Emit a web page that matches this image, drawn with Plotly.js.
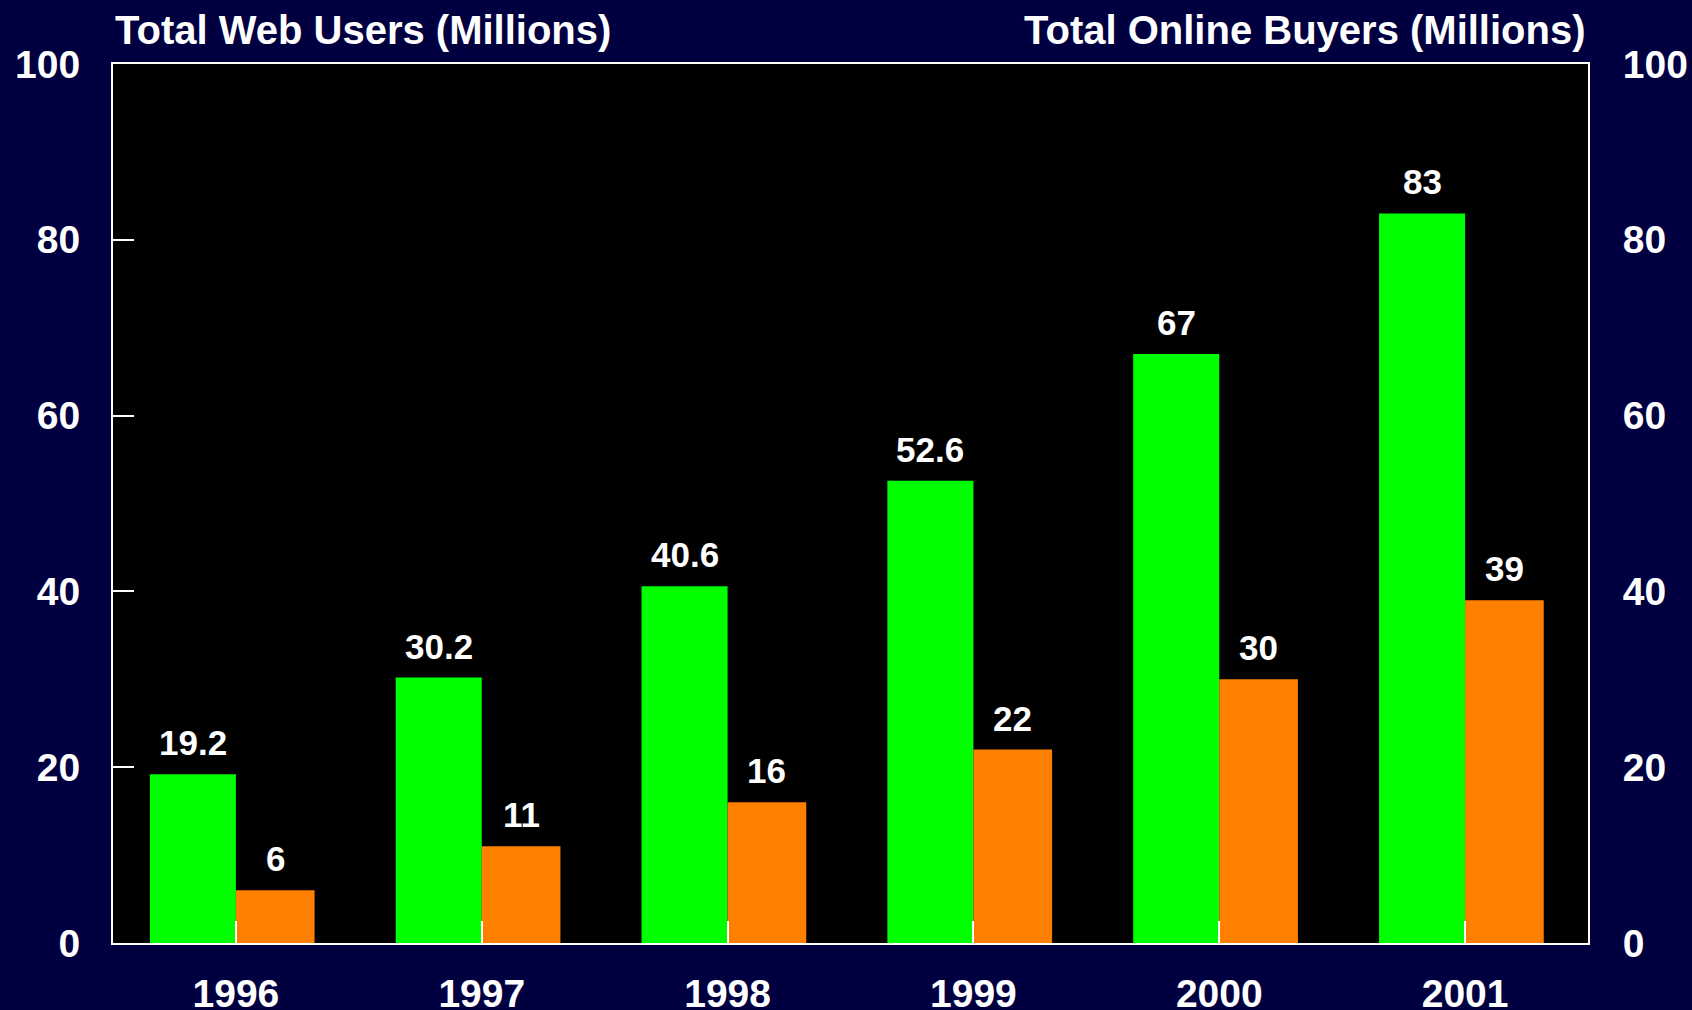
<!DOCTYPE html>
<html>
<head>
<meta charset="utf-8">
<script src="https://cdn.plot.ly/plotly-3.0.1.min.js"></script>
<style>
  html, body { margin: 0; padding: 0; background: #000040; }
  #chart { width: 1692px; height: 1010px; }
</style>
</head>
<body>
<div id="chart"></div>
<script>
const years = ['1996', '1997', '1998', '1999', '2000', '2001'];
const webUsers = [19.2, 30.2, 40.6, 52.6, 67, 83];
const onlineBuyers = [6, 11, 16, 22, 30, 39];

const font = 'Liberation Sans, Arial, sans-serif';

const data = [
  {x: years, y: webUsers, type: 'bar', name: 'Total Web Users',
   marker: {color: '#00ff00'}, offset: -0.35, width: 0.35, yaxis: 'y'},
  {x: years, y: onlineBuyers, type: 'bar', name: 'Total Online Buyers',
   marker: {color: '#ff8000'}, offset: 0, width: 0.32, yaxis: 'y2'}
];

// value labels above each bar
const labels = [];
webUsers.forEach((v, i) => labels.push({
  x: i - 0.175, y: v, xref: 'x', yref: 'y', text: '<b>' + v + '</b>',
  showarrow: false, yanchor: 'bottom', yshift: 10,
  font: {family: font, size: 35, color: '#ffffff'}
}));
onlineBuyers.forEach((v, i) => labels.push({
  x: i + 0.16, y: v, xref: 'x', yref: 'y2', text: '<b>' + v + '</b>',
  showarrow: false, yanchor: 'bottom', yshift: 10,
  font: {family: font, size: 35, color: '#ffffff'}
}));

const titles = [
  {x: 0, y: 1, xref: 'paper', yref: 'paper', xanchor: 'left', yanchor: 'bottom', yshift: 10,
   text: '<b>Total Web Users (Millions)</b>', showarrow: false,
   font: {family: font, size: 40, color: '#ffffff'}},
  {x: 1, y: 1, xref: 'paper', yref: 'paper', xanchor: 'right', yanchor: 'bottom', yshift: 10,
   text: '<b>Total Online Buyers (Millions)</b>', showarrow: false,
   font: {family: font, size: 40, color: '#ffffff'}}
];

const tickFont = {family: font, size: 39, color: '#ffffff', weight: 'bold'};

const layout = {
  width: 1692, height: 1010,
  paper_bgcolor: '#000040',
  plot_bgcolor: '#000000',
  margin: {l: 113, r: 104, t: 64, b: 67},
  showlegend: false,
  xaxis: {
    type: 'category', range: [-0.5, 5.5],
    showline: true, linecolor: '#ffffff', linewidth: 2, mirror: true,
    ticks: 'inside', ticklen: 22, tickcolor: '#ffffff', tickwidth: 2,
    tickfont: tickFont, ticklabelstandoff: 15, showgrid: false, zeroline: false
  },
  yaxis: {
    range: [0, 100], dtick: 20,
    showline: true, linecolor: '#ffffff', linewidth: 2,
    ticks: 'inside', ticklen: 21, tickcolor: '#ffffff', tickwidth: 2,
    tickfont: tickFont, ticklabelstandoff: 23, showgrid: false, zeroline: false
  },
  yaxis2: {
    range: [0, 100], dtick: 20, overlaying: 'y', side: 'right',
    showline: true, linecolor: '#ffffff', linewidth: 2,
    ticks: '', tickfont: tickFont, ticklabelstandoff: 25,
    showgrid: false, zeroline: false
  },
  annotations: titles.concat(labels)
};

Plotly.newPlot('chart', data, layout, {displayModeBar: false});
</script>
</body>
</html>
